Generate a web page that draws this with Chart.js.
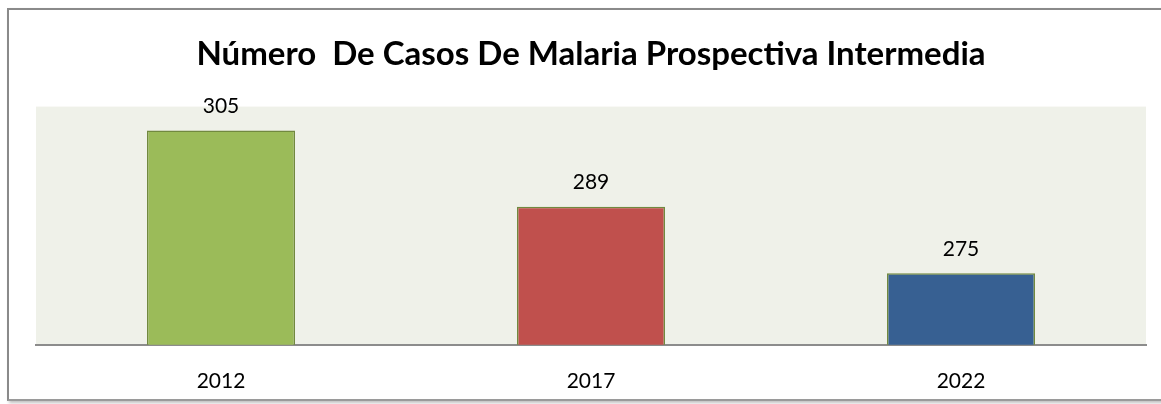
<!DOCTYPE html>
<html>
<head>
<meta charset="utf-8">
<script src="https://cdn.jsdelivr.net/npm/chart.js@4.4.0/dist/chart.umd.min.js"></script>
<style>
  html, body { margin: 0; padding: 0; background: #ffffff; }
  #frame {
    position: absolute; left: 7px; top: 8px; width: 1160px; height: 389px;
    border-left: 2px solid #8a8a8a; border-top: 2px solid #8a8a8a; border-bottom: 2px solid #9a9a9a;
    box-shadow: 2px 2px 3px rgba(0,0,0,0.25);
  }
  #wrap { position: absolute; left: 0; top: 0; width: 1161px; height: 404px; }
</style>
</head>
<body>
<div id="frame"></div>
<div id="wrap"><canvas id="casosChart" width="1161" height="404"></canvas></div>
<script>
// Datos del gráfico
const anios = ['2012', '2017', '2022'];
const casos = [305, 289, 275];
const coloresBarras = ['#9bbb59', '#c0504d', '#376092'];
const rangoEje = [260, 310];

// Fondo del área de trazado
const fondoArea = {
    id: 'fondoArea',
    beforeDraw(chart) {
        const { ctx, chartArea: a } = chart;
        ctx.save();
        ctx.fillStyle = '#eff1e9';
        ctx.fillRect(a.left, a.top, a.right - a.left, a.bottom - a.top);
        ctx.restore();
    }
};

// Etiquetas de valor encima de cada barra
const etiquetasValor = {
    id: 'etiquetasValor',
    afterDatasetsDraw(chart) {
        const { ctx } = chart;
        const meta = chart.getDatasetMeta(0);
        ctx.save();
        ctx.font = '21px Lato';
        ctx.fillStyle = '#000';
        ctx.textAlign = 'center';
        ctx.textBaseline = 'bottom';
        meta.data.forEach((bar, i) => {
            ctx.fillText(String(casos[i]), bar.x, bar.y - 14);
        });
        ctx.restore();
    }
};

const ctx = document.getElementById('casosChart').getContext('2d');
new Chart(ctx, {
    type: 'bar',
    data: {
        labels: anios,
        datasets: [{
            data: casos,
            backgroundColor: coloresBarras,
            borderColor: '#71893f',
            borderWidth: 1.5,
            barPercentage: 0.4,
            categoryPercentage: 1
        }]
    },
    options: {
        responsive: false,
        animation: false,
        layout: { padding: { left: 36, right: 15, top: 35, bottom: -14 } },
        plugins: {
            legend: { display: false },
            tooltip: { enabled: false },
            title: {
                display: true,
                text: 'Número  De Casos De Malaria Prospectiva Intermedia',
                color: '#000',
                font: { family: 'Lato', size: 33, weight: 'bold' },
                padding: { top: 0, bottom: 32 }
            }
        },
        scales: {
            y: {
                display: false,
                min: rangoEje[0],
                max: rangoEje[1]
            },
            x: {
                grid: { display: false, drawTicks: false },
                border: { display: true, color: '#8c8c8c', width: 2 },
                ticks: {
                    color: '#000',
                    font: { family: 'Lato', size: 21 },
                    padding: 24
                }
            }
        }
    },
    plugins: [fondoArea, etiquetasValor]
});
</script>
</body>
</html>
